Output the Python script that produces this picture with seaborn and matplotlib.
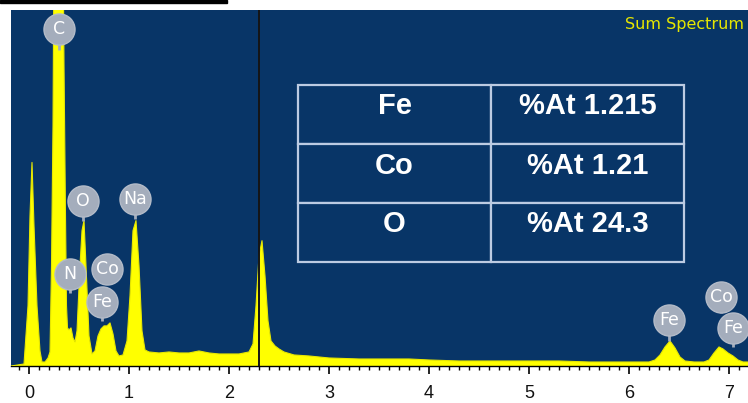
import matplotlib
matplotlib.use("Agg")
import matplotlib.pyplot as plt
import matplotlib.patches as mpatches
import seaborn as sns
import numpy as np
import pandas as pd

# ---- data ----
energy_kev = [-0.18, -0.05, -0.01, 0.01, 0.03, 0.05, 0.08, 0.11, 0.13, 0.16, 0.19,
              0.21, 0.225, 0.24, 0.26, 0.29, 0.32, 0.35, 0.365, 0.375, 0.385,
              0.40, 0.42, 0.44, 0.46, 0.48, 0.51, 0.53, 0.55, 0.57, 0.60, 0.63,
              0.66, 0.69, 0.72, 0.75, 0.78, 0.81, 0.84, 0.87, 0.90, 0.94, 0.98,
              1.01, 1.04, 1.07, 1.10, 1.13, 1.16, 1.20, 1.30, 1.40, 1.50, 1.60,
              1.70, 1.80, 1.90, 2.00, 2.10, 2.20, 2.24, 2.27, 2.30, 2.33, 2.36,
              2.39, 2.42, 2.46, 2.50, 2.55, 2.65, 2.80, 3.00, 3.30, 3.60, 3.80,
              4.00, 4.30, 4.60, 5.00, 5.30, 5.60, 6.00, 6.20, 6.26, 6.31, 6.36,
              6.41, 6.46, 6.51, 6.56, 6.65, 6.75, 6.80, 6.85, 6.90, 6.94, 6.99,
              7.04, 7.09, 7.14, 7.19]
counts = [0, 2, 60, 150, 203, 140, 60, 15, 4, 4, 8,
          14, 100, 240, 600, 1000, 700, 300, 150, 60, 38,
          36, 38, 28, 24, 35, 100, 135, 145, 100, 30, 12,
          15, 30, 37, 40, 40, 43, 32, 15, 10, 11, 25,
          70, 135, 145, 100, 35, 16, 14, 13, 14, 13, 13,
          15, 13, 12, 12, 12, 14, 22, 60, 110, 125, 90,
          45, 25, 20, 17, 14, 11, 10, 8, 7, 7, 7,
          6, 5, 5, 5, 5, 4, 4, 4, 6, 11, 19,
          25, 18, 9, 5, 4, 4, 6, 13, 19, 17, 13,
          10, 6, 4, 4]

marker_energy = 2.30

label_names = ["C", "O", "Na", "N", "Co", "Fe", "Fe", "Co", "Fe"]
label_energy = [0.30, 0.54, 1.06, 0.41, 0.78, 0.73, 6.40, 6.92, 7.04]
label_height = [336, 165, 167, 92, 97, 64, 46, 69, 38]
stem_bottom = [315, 145, 147, 73, 82, 45, 25, 53, 19]

table_elements = ["Fe", "Co", "O"]
table_values = ["%At 1.215", "%At 1.21", "%At 24.3"]

x_ticks = [0, 1, 2, 3, 4, 5, 6, 7]
title_text = "Sum Spectrum"

# ---- style ----
BG = "#083567"
YEL = "#ffff00"
sns.set_theme(style="white")
plt.rcParams["font.family"] = ["Liberation Sans", "DejaVu Sans"]

fig = plt.figure(figsize=(7.48, 4.03), dpi=100)
fig.patch.set_facecolor("white")
W, H = 748, 403
ax = fig.add_axes([11 / W, (H - 366) / H, (W - 11) / W, (366 - 10) / H])
ax.set_facecolor(BG)

df = pd.DataFrame({"energy": energy_kev, "counts": counts})
ax.fill_between(df["energy"], 0, df["counts"], color=YEL, linewidth=0, zorder=2)
sns.lineplot(data=df, x="energy", y="counts", color="#e8e800", linewidth=0.8,
             ax=ax, zorder=3, sort=False)

ax.axvline(marker_energy, color="#151515", linewidth=1.4, zorder=4)

# element labels
for e, h, b in zip(label_energy, label_height, stem_bottom):
    ax.plot([e, e], [b, h], color="#a4adbc", linewidth=2, zorder=5,
            solid_capstyle="butt")
lab_df = pd.DataFrame({"e": label_energy, "h": label_height})
sns.scatterplot(data=lab_df, x="e", y="h", s=500, color="#a4adbc",
                edgecolor="#b3bbc8", linewidth=1, ax=ax, zorder=6, legend=False)
for name, e, h in zip(label_names, label_energy, label_height):
    ax.text(e, h, name, color="white", fontsize=12.5, ha="center",
            va="center", zorder=7, family="DejaVu Sans")

ax.set_xlim(-0.18, 7.19)
ax.set_ylim(0, 355)

# table
cell_text = [[el, v] for el, v in zip(table_elements, table_values)]
tbl = ax.table(cellText=cell_text, cellLoc="center",
               bbox=[(298 - 11) / 737, (366 - 262) / 356,
                     (684 - 298) / 737, (262 - 85) / 356],
               colWidths=[0.5, 0.5])
tbl.auto_set_font_size(False)
for (r, c), cell in tbl.get_celld().items():
    cell.set_facecolor(BG)
    cell.set_edgecolor("#bccbe2")
    cell.set_linewidth(1.6)
    t = cell.get_text()
    t.set_color("white")
    t.set_fontsize(21)
    t.set_fontweight("bold")
    t.set_va("baseline")
    t.set_family("Liberation Sans")
tbl.set_zorder(8)

ax.text(0.9945, 0.958, title_text, transform=ax.transAxes, ha="right",
        va="center", color="#e6e600", fontsize=11.5, family="DejaVu Sans",
        zorder=9)

# axes
for s in ["top", "right", "left"]:
    ax.spines[s].set_visible(False)
ax.spines["bottom"].set_color("black")
ax.spines["bottom"].set_linewidth(1.0)
ax.set_xticks(x_ticks)
ax.set_xticklabels([str(t) for t in x_ticks])
ax.set_xticks(np.arange(-0.1, 7.2, 0.1), minor=True)
ax.tick_params(axis="x", which="major", direction="out", length=6, width=1.2,
               color="black", labelsize=13, pad=8, labelcolor="#111111",
               bottom=True)
ax.tick_params(axis="x", which="minor", direction="out", length=3, width=1,
               color="black", bottom=True)
ax.set_yticks([])
ax.set_xlabel("")
ax.set_ylabel("")

# black strip at top-left of the image
fig.patches.append(mpatches.Rectangle((0, 1 - 3 / H), 227 / W, 3 / H,
                                      transform=fig.transFigure,
                                      color="black", zorder=10))

fig.savefig("out.png", dpi=100, facecolor="white")
